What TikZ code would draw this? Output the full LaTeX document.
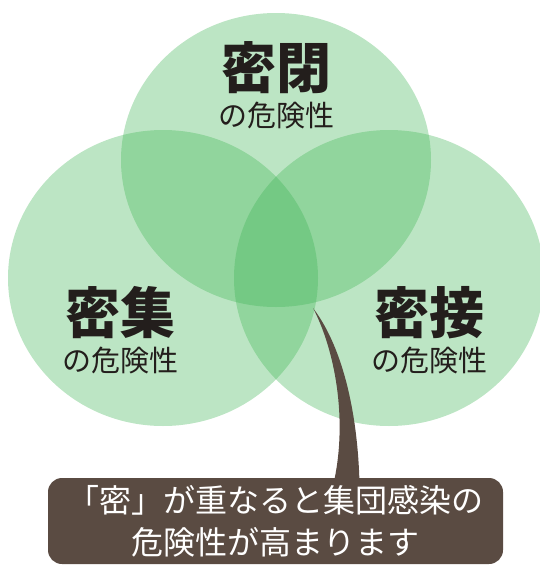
\documentclass[tikz,border=0pt]{standalone}
\usepackage{fontspec}
\setmainfont{Noto Sans CJK JP}
\usepackage{tikz}
\definecolor{leafgreen}{RGB}{60,180,82}
\definecolor{barkbrown}{RGB}{90,75,66}
\definecolor{inkblack}{RGB}{35,30,28}

\begin{document}
\begin{tikzpicture}[x=1pt, y=-1pt, node distance=48pt,
	risk circle/.style={fill=leafgreen, fill opacity=0.34},
	main node/.style={text=inkblack, inner sep=0pt, font=\fontsize{55}{60}\selectfont\bfseries},
	sub node/.style={text=inkblack, inner sep=0pt, font=\fontsize{29}{32}\selectfont},
	note box/.style={fill=barkbrown, text=white, rounded corners=14pt, align=center,
		minimum width=455pt, minimum height=86pt, font=\fontsize{32}{42}\selectfont}]
	\useasboundingbox (0,0) rectangle (539,565);
	
	\fill[risk circle] (276,160) ellipse [x radius=155pt, y radius=147pt];
	\fill[risk circle] (163,278) ellipse [x radius=155pt, y radius=148pt];
	\fill[risk circle] (389,278) ellipse [x radius=155pt, y radius=148pt];
	
	\node[note box] (7) at (275.5,521) {「密」が重なると集団感染の\\危険性が高まります};
	\coordinate (tip) at (313,308);
	\fill[barkbrown] (tip) .. controls (335,350) and (348,420) .. ([xshift=58pt,yshift=-6pt]7.north)
		-- ([xshift=84pt,yshift=-6pt]7.north) .. controls (358,420) and (345,350) .. (tip);
	
	\node[main node] (1) at (276,68) {密閉};
	\node[sub node] (2) [below of=1] {の危険性};
	\node[main node] (3) at (120,313) {密集};
	\node[sub node] (4) [below of=3] {の危険性};
	\node[main node] (5) at (429,313) {密接};
	\node[sub node] (6) [below of=5] {の危険性};
\end{tikzpicture}
\end{document}
